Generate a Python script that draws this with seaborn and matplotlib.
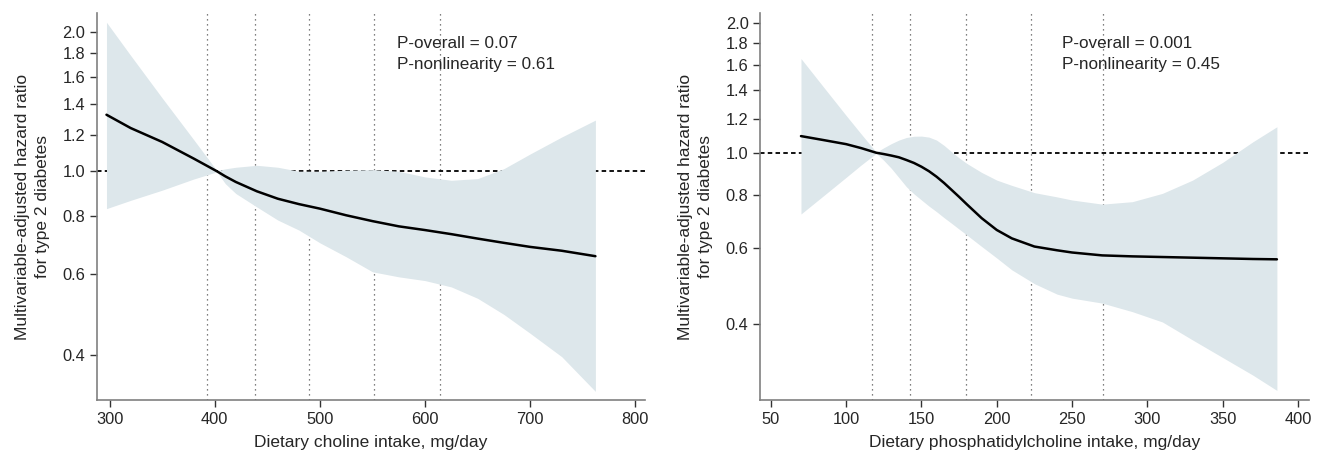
import numpy as np
import pandas as pd
import seaborn as sns
import matplotlib
matplotlib.use('Agg')
import matplotlib.pyplot as plt
from matplotlib.ticker import FixedLocator, NullLocator, FixedFormatter

# ---- left panel: dietary choline ----
choline_x = [297, 320, 350, 380, 402, 410, 420, 440, 460, 480, 500, 525, 550, 575, 600, 625, 650, 675,
             700, 730, 762]
choline_hr = [1.325, 1.24, 1.157, 1.065, 1.0, 0.975, 0.948, 0.905, 0.872, 0.849, 0.83, 0.803, 0.78, 0.76,
              0.746, 0.731, 0.715, 0.70, 0.686, 0.673, 0.655]
choline_hi = [2.10, 1.78, 1.44, 1.17, 1.003, 1.012, 1.02, 1.03, 1.02, 1.0, 1.0, 1.005, 1.008, 1.0, 0.972,
              0.956, 0.964, 1.013, 1.09, 1.186, 1.29]
choline_lo = [0.83, 0.865, 0.91, 0.962, 0.997, 0.94, 0.895, 0.837, 0.784, 0.746, 0.70, 0.653, 0.606, 0.591,
              0.58, 0.562, 0.531, 0.49, 0.446, 0.397, 0.334]
choline_cuts = [393, 438, 490, 551, 614]

# ---- right panel: dietary phosphatidylcholine ----
pc_x = [70, 85, 100, 110, 120, 125, 130, 135, 140, 145, 150, 155, 160, 165, 170, 175, 180, 190, 200, 210,
        225, 240, 250, 270, 290, 310, 330, 350, 370, 386]
pc_hr = [1.093, 1.07, 1.047, 1.025, 1.0, 0.993, 0.985, 0.976, 0.962, 0.947, 0.928, 0.906, 0.88, 0.851,
         0.82, 0.79, 0.76, 0.705, 0.662, 0.633, 0.606, 0.594, 0.587, 0.578, 0.575, 0.573, 0.571, 0.569,
         0.567, 0.566]
pc_hi = [1.654, 1.42, 1.22, 1.105, 1.003, 1.027, 1.05, 1.07, 1.085, 1.092, 1.093, 1.087, 1.07, 1.04,
         1.005, 0.973, 0.945, 0.90, 0.864, 0.84, 0.808, 0.79, 0.777, 0.76, 0.77, 0.805, 0.864, 0.95,
         1.06, 1.149]
pc_lo = [0.721, 0.795, 0.877, 0.937, 0.997, 0.96, 0.92, 0.876, 0.834, 0.803, 0.777, 0.752, 0.73, 0.707,
         0.686, 0.665, 0.645, 0.606, 0.57, 0.535, 0.497, 0.47, 0.46, 0.448, 0.428, 0.405, 0.368, 0.335,
         0.305, 0.281]
pc_cuts = [117, 142.4, 179.5, 222.6, 270.5]

y_ticks = [0.4, 0.6, 0.8, 1.0, 1.2, 1.4, 1.6, 1.8, 2.0]

sns.set_style('ticks')
plt.rcParams['font.family'] = ['Liberation Sans', 'DejaVu Sans']
plt.rcParams['font.size'] = 12

band_col = '#dde7eb'
spine_col = '#808080'


def panel(ax, x, hr, lo, hi, cuts, xlim, ylim, xticks, xlabel, p_lines, p_x):
    df = pd.DataFrame({'x': x, 'hr': hr, 'lo': lo, 'hi': hi})
    ax.set_yscale('log')
    # reference lines (sit behind the band)
    for c in cuts:
        ax.axvline(c, color='#555555', lw=0.9, ls=(0, (1, 3)), zorder=1)
    ax.axhline(1.0, color='black', lw=1.3, ls=(0, (2.5, 1.8)), zorder=1)
    ax.fill_between(df['x'], df['lo'], df['hi'], color=band_col, lw=0, zorder=2)
    sns.lineplot(data=df, x='x', y='hr', ax=ax, color='black', lw=1.8, zorder=3)

    ax.set_xlim(*xlim)
    ax.set_ylim(*ylim)
    ax.set_xticks(xticks)
    ax.yaxis.set_major_locator(FixedLocator(y_ticks))
    ax.yaxis.set_major_formatter(FixedFormatter(['%.1f' % t for t in y_ticks]))
    ax.yaxis.set_minor_locator(NullLocator())
    ax.set_xlabel(xlabel, labelpad=6, fontsize=12.5)
    ax.set_ylabel('Multivariable-adjusted hazard ratio\nfor type 2 diabetes', labelpad=9,
                  fontsize=12.5, linespacing=1.4)
    ax.tick_params(direction='out', length=5, width=1, color='#333333', labelsize=11.8)
    sns.despine(ax=ax)
    for s in ['left', 'bottom']:
        ax.spines[s].set_color(spine_col)
        ax.spines[s].set_linewidth(1.2)
    ax.text(p_x, 0.922, p_lines[0], transform=ax.transAxes, va='center', ha='left', fontsize=12.3)
    ax.text(p_x, 0.866, p_lines[1], transform=ax.transAxes, va='center', ha='left', fontsize=12.3)


fig = plt.figure(figsize=(13.2, 4.57), dpi=100)
ax1 = fig.add_axes([0.0735, 0.1247, 0.415, 0.847])
ax2 = fig.add_axes([0.576, 0.1247, 0.416, 0.847])

panel(ax1, choline_x, choline_hr, choline_lo, choline_hi, choline_cuts,
      (288, 809), (0.32, 2.20), [300, 400, 500, 600, 700, 800],
      'Dietary choline intake, mg/day',
      ['P-overall = 0.07', 'P-nonlinearity = 0.61'], 0.547)

panel(ax2, pc_x, pc_hr, pc_lo, pc_hi, pc_cuts,
      (43, 407.6), (0.267, 2.11), [50, 100, 150, 200, 250, 300, 350, 400],
      'Dietary phosphatidylcholine intake, mg/day',
      ['P-overall = 0.001', 'P-nonlinearity = 0.45'], 0.55)

fig.savefig('out.png', dpi=100)
